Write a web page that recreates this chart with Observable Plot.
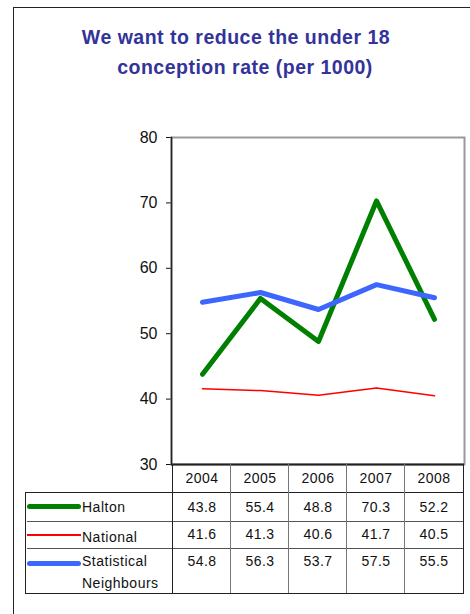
<!DOCTYPE html>
<html>
<head>
<meta charset="utf-8">
<script src="https://cdn.jsdelivr.net/npm/d3@7"></script>
<script src="https://cdn.jsdelivr.net/npm/@observablehq/plot@0.6"></script>
<style>
  html, body { margin: 0; padding: 0; background: #fff; }
  body { width: 470px; height: 614px; position: relative; overflow: hidden; font-family: "Liberation Sans", Arial, sans-serif; }
  #frame { position: absolute; left: 13px; top: 7px; width: 480px; height: 640px; border-left: 1.5px solid #222; border-top: 1.5px solid #222; }
  .title { position: absolute; left: 0; width: 470px; text-align: center; color: #333399; font-weight: bold; font-size: 19.5px; letter-spacing: 0.5px; white-space: nowrap; }
  #chart { position: absolute; left: 0; top: 120px; }
  .cell { position: absolute; font-size: 14px; letter-spacing: 0.5px; color: #111; white-space: nowrap; }
  .hline { position: absolute; height: 0; border-top: 1.5px solid #222; }
  .vline { position: absolute; width: 0; border-left: 1.5px solid #444; }
  .swatch { position: absolute; border-radius: 3px; }
</style>
</head>
<body>
<div id="frame"></div>
<div class="title" style="top:26px; left:1px;">We want to reduce the under 18</div>
<div class="title" style="top:56px; left:10px;">conception rate (per 1000)</div>
<div id="chart"></div>
<div id="table"></div>
<script>
const years = ["2004", "2005", "2006", "2007", "2008"];
const halton = [43.8, 55.4, 48.8, 70.3, 52.2];
const national = [41.6, 41.3, 40.6, 41.7, 40.5];
const statNeighbours = [54.8, 56.3, 53.7, 57.5, 55.5];
const seriesNames = ["Halton", "National", "Statistical Neighbours"];
const yTicks = [30, 40, 50, 60, 70, 80];

const seriesValues = [halton, national, statNeighbours];
const colors = ["#008000", "#ff0000", "#3d66ff"];
const widths = [5, 1.5, 5];

const data = [];
seriesNames.forEach((s, i) => years.forEach((yr, j) => data.push({series: s, year: yr, value: seriesValues[i][j]})));

const plot = Plot.plot({
  width: 470,
  height: 364,
  marginTop: 17,
  marginBottom: 20,
  marginLeft: 171,
  marginRight: 6,
  style: {background: "transparent", fontFamily: "Liberation Sans, Arial, sans-serif", fontSize: "16px", color: "#111", overflow: "visible"},
  x: {type: "band", domain: years, padding: 0, axis: null},
  y: {domain: [30, 80], ticks: yTicks, tickSize: 5, tickPadding: 9, label: null},
  marks: [
    Plot.frame({stroke: "#999", strokeWidth: 2}),
    Plot.frame({anchor: "left", stroke: "#222", strokeWidth: 1.5}),
    Plot.ruleY([30], {stroke: "#222", strokeWidth: 2}),
    ...seriesNames.map((s, i) => Plot.line(data.filter(d => d.series === s), {
      x: "year", y: "value", stroke: colors[i], strokeWidth: widths[i], strokeLinejoin: "round", strokeLinecap: "round"
    }))
  ]
});
document.getElementById("chart").appendChild(plot);

// Data table below the chart, aligned to the x scale's bands
const xs = plot.scale("x");
const x0 = xs.range[0], x1 = xs.range[1], bw = xs.bandwidth;
const bounds = years.map(y => xs.apply(y)).concat([x1]);
const tbl = document.getElementById("table");
const add = (cls, style, text) => { const d = document.createElement("div"); d.className = cls; Object.assign(d.style, style); if (text) d.textContent = text; tbl.appendChild(d); return d; };

const headTop = 464, rowTops = [492, 521, 548], tableBottom = 593, tableLeft = 25;
// header year labels
years.forEach((yr, j) => add("cell", {left: bounds[j] + "px", width: bw + "px", textAlign: "center", top: (headTop + 6) + "px"}, yr));
// horizontal lines
add("hline", {left: x0 + "px", width: (x1 - x0) + "px", top: rowTops[0] + "px"});
add("hline", {left: tableLeft + "px", width: (x0 - tableLeft) + "px", top: rowTops[0] + "px"});
add("hline", {left: (tableLeft + 2) + "px", width: (x1 - tableLeft - 2) + "px", top: rowTops[1] + "px", borderTopColor: "#555"});
add("hline", {left: (tableLeft + 2) + "px", width: (x1 - tableLeft - 2) + "px", top: rowTops[2] + "px", borderTopColor: "#555"});
add("hline", {left: tableLeft + "px", width: (x1 - tableLeft) + "px", top: tableBottom + "px"});
// vertical lines
bounds.forEach((b, j) => add("vline", {left: (b - 0.75) + "px", top: headTop + "px", height: (tableBottom - headTop) + "px", borderLeftColor: j === 0 || j === bounds.length - 1 ? "#222" : "#777"}));
add("vline", {left: tableLeft + "px", top: rowTops[0] + "px", height: (tableBottom - rowTops[0]) + "px", borderLeftColor: "#222"});
// rows
const labelLines = [["Halton"], ["National"], ["Statistical", "Neighbours"]];
const textTops = [499, 526, 553];
seriesNames.forEach((s, i) => {
  const swY = i === 0 ? 506 : i === 1 ? 535 : 563;
  add("swatch", {left: "27px", width: "54px", top: (swY - widths[i] / 2) + "px", height: widths[i] + "px", background: colors[i], borderRadius: widths[i] > 2 ? "3px" : "0"});
  labelLines[i].forEach((t, k) => add("cell", {left: "82px", top: (textTops[i] + (i === 1 ? 3 : 0) + k * 22) + "px"}, t));
  seriesValues[i].forEach((v, j) => add("cell", {left: bounds[j] + "px", width: bw + "px", textAlign: "center", top: textTops[i] + "px"}, v.toFixed(1)));
});
</script>
</body>
</html>
